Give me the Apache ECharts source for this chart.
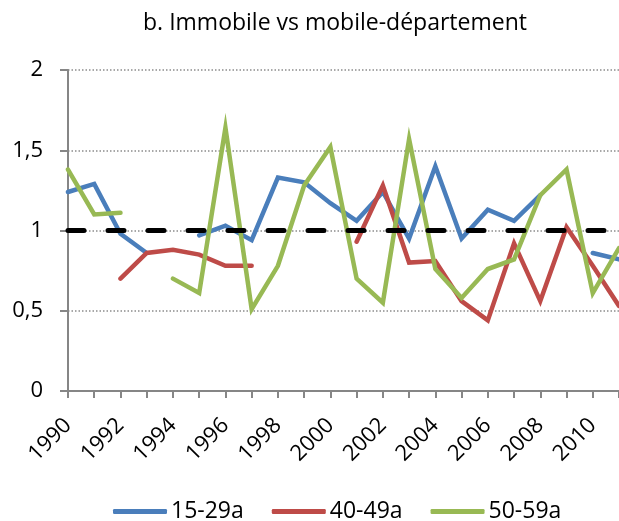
<!DOCTYPE html>
<html>
<head>
<meta charset="utf-8">
<script src="https://cdn.jsdelivr.net/npm/echarts@6/dist/echarts.min.js"></script>
<style>
  html, body { margin: 0; padding: 0; background: #fff; }
  #chart { width: 619px; height: 521px; }
</style>
</head>
<body>
<div id="chart"></div>
<script>
// Years on the horizontal axis
const years = ['1990','1991','1992','1993','1994','1995','1996','1997','1998','1999','2000',
               '2001','2002','2003','2004','2005','2006','2007','2008','2009','2010','2011'];

// Ratio immobile / mobile-département by age group (null = no value)
const age15to29 = [1.24, 1.29, 0.98, 0.86, null, 0.97, 1.03, 0.94, 1.33, 1.30, 1.17,
                   1.06, 1.24, 0.95, 1.40, 0.95, 1.13, 1.06, 1.22, null, 0.86, 0.82];
const age40to49 = [null, null, 0.70, 0.86, 0.88, 0.85, 0.78, 0.78, null, null, null,
                   0.93, 1.28, 0.80, 0.81, 0.56, 0.44, 0.92, 0.56, 1.02, 0.78, 0.53];
const age50to59 = [1.38, 1.10, 1.11, null, 0.70, 0.61, 1.64, 0.51, 0.78, 1.28, 1.52,
                   0.70, 0.55, 1.57, 0.76, 0.58, 0.76, 0.82, 1.22, 1.38, 0.61, 0.89];

// Parity level drawn as a dashed reference line
const parityLevel = 1;

const seriesNames = ['15-29a', '40-49a', '50-59a'];
const seriesColors = ['#4A7EBB', '#BE4B48', '#98B954'];
const seriesData = [age15to29, age40to49, age50to59];

const FONT = '"Open Sans", "Noto Sans", sans-serif';

const chart = echarts.init(document.getElementById('chart'), null, { renderer: 'canvas' });

const lineSeries = seriesNames.map((name, i) => ({
  name: name,
  type: 'line',
  data: seriesData[i],
  showSymbol: false,
  symbol: 'none',
  connectNulls: false,
  animation: false,
  z: 2 + i,
  lineStyle: { color: seriesColors[i], width: 4.5, cap: 'round', join: 'miter' },
  itemStyle: { color: seriesColors[i] }
}));

// Reference line at parity, drawn above the data lines
lineSeries.push({
  name: 'parité',
  type: 'line',
  data: [],
  z: 10,
  animation: false,
  markLine: {
    silent: true,
    symbol: 'none',
    animation: false,
    label: { show: false },
    lineStyle: { color: '#000', width: 5, type: [16, 24], cap: 'round' },
    data: [{ yAxis: parityLevel }]
  }
});

chart.setOption({
  animation: false,
  backgroundColor: '#fff',
  title: {
    text: 'b. Immobile vs mobile-département',
    left: 330,
    top: 7,
    textAlign: 'center',
    textStyle: { fontFamily: FONT, fontSize: 23, fontWeight: 'normal', color: '#000' }
  },
  legend: {
    data: seriesNames,
    left: 108,
    top: 495,
    itemWidth: 54,
    itemHeight: 5,
    itemGap: 28,
    icon: 'roundRect',
    textStyle: { fontFamily: FONT, fontSize: 23, color: '#000', padding: [0, 0, 0, -1] }
  },
  grid: { left: 68, right: -2, top: 70, bottom: 130, containLabel: false },
  xAxis: {
    type: 'category',
    data: years,
    boundaryGap: false,
    axisLine: { lineStyle: { color: '#868686', width: 2 } },
    axisTick: { show: true, interval: 0, length: 7, lineStyle: { color: '#868686', width: 2 } },
    axisLabel: {
      interval: 1,
      rotate: 45,
      margin: 31,
      fontFamily: FONT,
      fontSize: 22,
      color: '#000'
    },
    splitLine: { show: false }
  },
  yAxis: {
    type: 'value',
    min: 0,
    max: 2,
    interval: 0.5,
    axisLine: { show: true, lineStyle: { color: '#868686', width: 2 } },
    axisTick: { show: true, length: 8, lineStyle: { color: '#868686', width: 2 } },
    axisLabel: {
      margin: 25,
      fontFamily: FONT,
      fontSize: 22,
      color: '#000',
      formatter: v => String(v).replace('.', ',')
    },
    splitLine: { lineStyle: { color: '#8c8c8c', width: 1.5, type: [1.5, 2] } }
  },
  series: lineSeries
});
</script>
</body>
</html>
